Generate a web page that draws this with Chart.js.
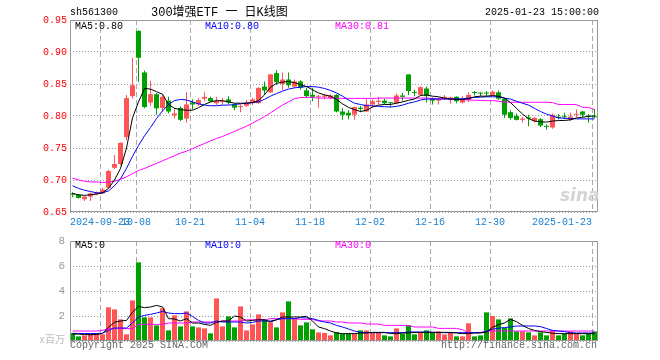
<!DOCTYPE html>
<html><head><meta charset="utf-8">
<script src="https://cdn.jsdelivr.net/npm/chart.js@4.4.1/dist/chart.umd.min.js"></script>
<style>
html,body{margin:0;padding:0;background:#fff}
#wrap{position:relative;width:660px;height:360px;overflow:hidden;background:#fff}
canvas{position:absolute;left:0}
.t{position:absolute;font:10px/12px "Liberation Mono","DejaVu Sans Mono",monospace;white-space:pre}
</style></head><body>
<div id="wrap">
<canvas id="k" width="660" height="232" style="top:0"></canvas>
<canvas id="v" width="660" height="128" style="top:232px"></canvas>
<div class="t" style="left:70px;top:7px;color:#000">sh561300</div>
<div class="t" style="left:151px;top:6px;font-size:12px;line-height:14px;font-family:'Liberation Mono','Noto Sans CJK SC',monospace;color:#000">300增强ETF 一 日K线图</div>
<div class="t" style="right:61px;top:7px;color:#000">2025-01-23 15:00:00</div>
<div class="t" id="l5" style="left:75px;top:21px;color:#000"></div>
<div class="t" id="l10" style="left:205px;top:21px;color:#0000ff"></div>
<div class="t" id="l30" style="left:335px;top:21px;color:#ff00ff"></div>
<div class="t" style="left:75px;top:240px;color:#000">MA5:0</div>
<div class="t" style="left:205px;top:240px;color:#0000ff">MA10:0</div>
<div class="t" style="left:335px;top:240px;color:#ff00ff">MA30:0</div>
<div class="t" style="right:595px;top:335px;color:#bbb;font-family:'Liberation Mono','Noto Sans CJK SC',monospace">x百万</div>
<div class="t" style="left:70px;top:340px;color:#666">Copyright 2025 SINA.COM</div>
<div class="t" style="right:63px;top:340px;color:#666">http://finance.sina.com.cn</div>
<div style="position:absolute;left:560px;top:185px;font:italic bold 17px/20px 'DejaVu Sans',sans-serif;color:#d4d4d4">sina</div>
</div>
<script>
const DATES = ['2024-09-12','2024-09-13','2024-09-18','2024-09-19','2024-09-20','2024-09-23','2024-09-24','2024-09-25','2024-09-26','2024-09-27',
'2024-09-30','2024-10-08','2024-10-09','2024-10-10','2024-10-11','2024-10-14','2024-10-15','2024-10-16','2024-10-17','2024-10-18',
'2024-10-21','2024-10-22','2024-10-23','2024-10-24','2024-10-25','2024-10-28','2024-10-29','2024-10-30','2024-10-31','2024-11-01',
'2024-11-04','2024-11-05','2024-11-06','2024-11-07','2024-11-08','2024-11-11','2024-11-12','2024-11-13','2024-11-14','2024-11-15',
'2024-11-18','2024-11-19','2024-11-20','2024-11-21','2024-11-22','2024-11-25','2024-11-26','2024-11-27','2024-11-28','2024-11-29',
'2024-12-02','2024-12-03','2024-12-04','2024-12-05','2024-12-06','2024-12-09','2024-12-10','2024-12-11','2024-12-12','2024-12-13',
'2024-12-16','2024-12-17','2024-12-18','2024-12-19','2024-12-20','2024-12-23','2024-12-24','2024-12-25','2024-12-26','2024-12-27',
'2024-12-30','2024-12-31','2025-01-02','2025-01-03','2025-01-06','2025-01-07','2025-01-08','2025-01-09','2025-01-10','2025-01-13',
'2025-01-14','2025-01-15','2025-01-16','2025-01-17','2025-01-20','2025-01-21','2025-01-22','2025-01-23'];

const OPEN = [0.679,0.677,0.670,0.674,0.678,0.679,0.688,0.719,0.725,0.767,
0.831,0.933,0.868,0.821,0.834,0.8125,0.824,0.801,0.8125,0.796,
0.821,0.818,0.827,0.828,0.820,0.822,0.826,0.818,0.814,0.816,
0.820,0.820,0.846,0.837,0.867,0.850,0.857,0.846,0.854,0.840,
0.833,0.830,0.830,0.828,0.833,0.807,0.805,0.802,0.813,0.807,
0.818,0.822,0.824,0.821,0.820,0.832,0.865,0.837,0.833,0.843,
0.827,0.824,0.828,0.826,0.830,0.821,0.825,0.837,0.836,0.836,
0.833,0.837,0.827,0.806,0.800,0.794,0.798,0.792,0.795,0.784,
0.782,0.799,0.799,0.794,0.802,0.807,0.800,0.799];
const HIGH = [0.681,0.678,0.675,0.680,0.682,0.688,0.716,0.739,0.759,0.833,
0.891,0.934,0.871,0.855,0.836,0.833,0.830,0.8125,0.815,0.837,
0.826,0.828,0.838,0.830,0.830,0.828,0.831,0.820,0.818,0.825,
0.828,0.845,0.854,0.866,0.872,0.868,0.868,0.857,0.856,0.844,
0.844,0.833,0.834,0.834,0.834,0.8125,0.809,0.815,0.816,0.827,
0.826,0.830,0.827,0.821,0.835,0.836,0.865,0.841,0.846,0.846,
0.829,0.829,0.833,0.830,0.831,0.831,0.837,0.839,0.837,0.839,
0.840,0.840,0.828,0.809,0.804,0.799,0.802,0.799,0.797,0.787,
0.804,0.803,0.805,0.805,0.810,0.808,0.803,0.811];
const LOW = [0.673,0.671,0.667,0.667,0.676,0.678,0.687,0.717,0.723,0.762,
0.827,0.853,0.812,0.816,0.802,0.807,0.804,0.796,0.792,0.790,
0.810,0.816,0.823,0.822,0.817,0.818,0.818,0.809,0.806,0.814,
0.817,0.819,0.833,0.836,0.849,0.841,0.844,0.844,0.841,0.828,
0.823,0.813,0.826,0.826,0.806,0.794,0.795,0.794,0.806,0.807,
0.813,0.818,0.818,0.814,0.818,0.824,0.833,0.831,0.832,0.821,
0.818,0.818,0.825,0.819,0.820,0.820,0.822,0.832,0.831,0.831,
0.832,0.825,0.797,0.794,0.793,0.790,0.784,0.790,0.783,0.779,
0.780,0.795,0.795,0.792,0.798,0.798,0.790,0.797];
const CLOSE = [0.677,0.672,0.674,0.679,0.680,0.685,0.714,0.725,0.758,0.828,
0.848,0.891,0.814,0.834,0.812,0.830,0.807,0.804,0.794,0.818,
0.818,0.825,0.830,0.823,0.824,0.823,0.821,0.813,0.815,0.821,
0.826,0.844,0.840,0.865,0.853,0.857,0.848,0.854,0.844,0.831,
0.830,0.831,0.832,0.832,0.807,0.802,0.801,0.814,0.811,0.818,
0.823,0.824,0.820,0.820,0.832,0.830,0.839,0.836,0.845,0.831,
0.824,0.826,0.830,0.829,0.823,0.826,0.833,0.836,0.835,0.835,
0.838,0.827,0.802,0.797,0.794,0.796,0.796,0.797,0.785,0.783,
0.802,0.797,0.798,0.799,0.803,0.802,0.799,0.798];

const MA5 = [0.679,0.677,0.676,0.677,0.678,0.680,0.687,0.700,0.718,0.750,
0.797,0.822,0.843,0.842,0.838,0.834,0.818,0.812,0.810,0.809,
0.809,0.813,0.818,0.822,0.824,0.824,0.822,0.820,0.820,0.820,
0.821,0.824,0.833,0.845,0.851,0.853,0.854,0.852,0.849,0.846,
0.841,0.836,0.833,0.831,0.826,0.819,0.8135,0.810,0.807,0.809,
0.814,0.817,0.818,0.818,0.820,0.822,0.8245,0.8265,0.832,0.833,
0.831,0.830,0.828,0.8265,0.826,0.8255,0.827,0.830,0.831,0.831,
0.832,0.831,0.828,0.821,0.812,0.803,0.796,0.792,0.791,0.7905,
0.792,0.793,0.793,0.794,0.797,0.798,0.7995,0.800];
const MA10 = [0.691,0.687,0.684,0.682,0.680,0.680,0.683,0.691,0.702,0.718,
0.737,0.754,0.769,0.782,0.796,0.808,0.818,0.824,0.826,0.825,
0.822,0.819,0.817,0.816,0.816,0.817,0.817,0.818,0.819,0.820,
0.821,0.822,0.826,0.831,0.835,0.839,0.842,0.844,0.845,0.846,
0.846,0.845,0.843,0.840,0.836,0.831,0.825,0.820,0.818,0.816,
0.816,0.815,0.8145,0.814,0.815,0.817,0.820,0.822,0.825,0.8265,
0.8265,0.8265,0.8265,0.8265,0.827,0.827,0.828,0.829,0.8295,0.830,
0.830,0.830,0.828,0.8265,0.823,0.820,0.817,0.812,0.807,0.803,
0.800,0.797,0.7965,0.796,0.7955,0.7955,0.7955,0.7955];
const MA30 = [0.703,0.700,0.698,0.697,0.697,0.696,0.697,0.698,0.701,0.705,
0.710,0.715,0.718,0.722,0.726,0.730,0.734,0.738,0.742,0.745,
0.749,0.753,0.757,0.761,0.765,0.768,0.772,0.776,0.780,0.784,
0.789,0.794,0.799,0.805,0.811,0.817,0.822,0.827,0.829,0.829,
0.829,0.828,0.828,0.828,0.828,0.8275,0.8275,0.8275,0.8275,0.8275,
0.8275,0.828,0.828,0.828,0.828,0.828,0.828,0.828,0.828,0.828,
0.8275,0.827,0.827,0.8265,0.826,0.8255,0.825,0.8245,0.8245,0.824,
0.824,0.823,0.822,0.8215,0.8215,0.8215,0.8215,0.8215,0.8215,0.8215,
0.821,0.818,0.818,0.818,0.818,0.8135,0.8135,0.810];

const VOLUME = [0.64,0.37,0.45,0.59,0.64,0.53,2.69,2.53,1.73,0.53,
3.25,6.29,1.89,1.89,1.25,2.61,0.85,2.05,1.17,2.37,
1.17,1.09,1.01,0.61,3.41,1.17,1.97,1.09,2.77,0.85,
1.33,2.13,1.73,1.49,1.09,2.29,3.17,1.81,1.25,1.49,
0.93,0.69,0.64,0.45,0.72,0.59,0.59,0.59,0.85,0.85,
0.64,0.64,0.45,0.37,1.01,0.59,1.25,0.53,0.72,0.85,
0.64,0.77,0.53,0.64,0.37,0.37,1.41,0.37,0.45,2.29,
2.00,1.73,1.04,1.81,0.77,0.77,0.69,0.45,0.69,0.45,
0.85,0.45,0.59,0.77,0.59,0.45,0.59,0.77];
const VMA5 = [0.55,0.55,0.52,0.50,0.52,0.60,1.10,1.50,1.60,1.65,
2.30,2.77,2.67,2.72,2.85,2.72,1.79,1.76,1.60,1.79,
1.44,1.44,1.33,1.25,1.49,1.60,1.60,2.00,1.92,1.60,
1.65,1.70,1.70,1.52,1.70,1.92,1.92,1.92,1.92,1.97,
1.60,1.12,0.99,0.80,0.64,0.59,0.59,0.59,0.64,0.64,
0.69,0.69,0.69,0.59,0.59,0.64,0.64,0.69,0.69,0.69,
0.69,0.69,0.69,0.69,0.64,0.59,0.59,0.64,0.64,0.72,
1.10,1.30,1.45,1.73,1.55,1.25,1.00,0.85,0.75,0.69,
0.62,0.59,0.59,0.59,0.59,0.59,0.59,0.59];
const VMA10 = [0.62,0.60,0.60,0.60,0.60,0.62,0.85,1.04,1.04,1.04,
1.44,1.92,2.05,2.13,2.24,2.37,2.24,2.19,2.19,2.24,
1.97,1.65,1.44,1.44,1.60,1.52,1.52,1.52,1.52,1.44,
1.49,1.60,1.60,1.60,1.70,1.79,1.79,1.79,1.87,1.84,
1.79,1.65,1.52,1.44,1.25,1.12,0.96,0.80,0.69,0.67,
0.67,0.67,0.67,0.67,0.67,0.67,0.72,0.72,0.72,0.72,
0.70,0.67,0.67,0.67,0.67,0.67,0.67,0.67,0.67,0.75,
0.95,1.02,1.08,1.12,1.20,1.20,1.20,1.20,1.15,1.00,
0.85,0.80,0.75,0.66,0.64,0.64,0.64,0.64];
const VMA30 = [0.80,0.80,0.80,0.80,0.80,0.85,0.99,0.99,0.99,0.99,
0.99,1.33,1.33,1.33,1.33,1.33,1.44,1.44,1.44,1.44,
1.52,1.52,1.52,1.52,1.52,1.60,1.60,1.60,1.60,1.70,
1.70,1.70,1.70,1.79,1.79,1.79,1.79,1.79,1.73,1.73,
1.73,1.60,1.60,1.60,1.52,1.52,1.44,1.44,1.44,1.36,
1.36,1.36,1.25,1.25,1.25,1.25,1.25,1.12,1.12,1.12,
1.12,1.01,1.01,1.01,1.01,0.90,0.67,0.67,0.67,0.80,
0.80,0.80,0.80,0.80,0.80,0.80,0.80,0.80,0.80,0.80,
0.80,0.80,0.80,0.80,0.80,0.80,0.80,0.80];

const PRICE_TICKS = [0.65,0.70,0.75,0.80,0.85,0.90,0.95];
const VOL_TICKS = [0,2,4,6,8];
const TICK_IDX = [5,11,20,30,40,50,60,70,87];
const TICK_LABELS = ['2024-09-23','10-08','10-21','11-04','11-18','12-02','12-16','12-30','2025-01-23'];

const UP = '#ff5555', DOWN = '#00a000';
const N = DATES.length;
const OFF = 2.5/6;
const IDX = DATES.map((d,i)=>i);
const COLORS = IDX.map(i => CLOSE[i] >= OPEN[i] ? UP : DOWN);
const pts = arr => arr.map((v,i)=>({x:i,y:v}));
const FONT = {family:"'Liberation Mono','DejaVu Sans Mono',monospace", size:10};

document.getElementById('l5').textContent = 'MA5:' + MA5[N-1].toFixed(2);
document.getElementById('l10').textContent = 'MA10:' + MA10[N-1].toFixed(2);
document.getElementById('l30').textContent = 'MA30:' + MA30[N-1].toFixed(2);

const frame = {id:'frame', afterDraw(c){
  const a=c.chartArea, ctx=c.ctx; ctx.save(); ctx.strokeStyle='#999'; ctx.lineWidth=1;
  ctx.strokeRect(a.left+0.5, a.top+0.5, a.right-a.left-1, a.bottom-a.top-1); ctx.restore();
}};

function xScale(showLabels, h){
  return {
    type:'linear', min:-OFF, max:N-OFF, bounds:'data', offset:false,
    afterBuildTicks:s=>{ s.min=-OFF; s.max=N-OFF; s.ticks = TICK_IDX.map(i=>({value:i-OFF})); },
    afterFit:s=>{ s.height=h; s.paddingLeft=0; s.paddingRight=0; },
    ticks:{display:showLabels, autoSkip:false, maxRotation:0, minRotation:0, padding:4, color:'#1a80d0', font:FONT,
      callback:(v,i)=> i===TICK_LABELS.length-1 ? TICK_LABELS[i]+' '.repeat(TICK_LABELS[i].length) : TICK_LABELS[i]},
    grid:{color:'#aaa', lineWidth:1, drawTicks:false, offset:false},
    border:{display:false, dash:[5,3]}
  };
}
function yScale(lo, hi, ticks, extra){
  return Object.assign({type:'linear', min:lo, max:hi, bounds:'data',
    afterBuildTicks:s=>{ s.min=lo; s.max=hi; s.ticks = ticks.map(v=>({value:v})); },
    afterFit:s=>{ s.width=70; s.paddingTop=0; s.paddingBottom=0; },
    grid:{color:'#999', drawTicks:false}, border:{display:false, dash:[1,2]}}, extra);
}
function line(arr,color){ return {type:'line', data:pts(arr), borderColor:color, borderWidth:1, pointRadius:0, tension:0, order:0}; }
const barBase = {type:'bar', grouped:false, barPercentage:1, categoryPercentage:1, inflateAmount:0, borderWidth:0, order:1};

new Chart(document.getElementById('k'), {
  type:'bar',
  data:{datasets:[
    line(MA5,'#000000'), line(MA10,'#0000ff'), line(MA30,'#ff00ff'),
    Object.assign({}, barBase, {data:IDX.map(i=>({x:i,y:[LOW[i],HIGH[i]]})), backgroundColor:COLORS, maxBarThickness:1}),
    Object.assign({}, barBase, {data:IDX.map(i=>({x:i,y:[OPEN[i],CLOSE[i]]})), backgroundColor:COLORS, maxBarThickness:5, minBarLength:1})
  ]},
  options:{responsive:false, animation:false, devicePixelRatio:1, events:[],
    layout:{padding:{left:0,right:62,top:20,bottom:0}},
    plugins:{legend:{display:false}, tooltip:{enabled:false}},
    scales:{
      x:xScale(true,20),
      y:yScale(0.65,0.95,PRICE_TICKS,{ticks:{color:'#ff0000', padding:3, font:FONT, callback:v=>v.toFixed(2)}})
    }},
  plugins:[frame]
});

new Chart(document.getElementById('v'), {
  type:'bar',
  data:{datasets:[
    line(VMA5,'#000000'), line(VMA10,'#0000ff'), line(VMA30,'#ff00ff'),
    Object.assign({}, barBase, {data:IDX.map(i=>({x:i,y:VOLUME[i]})), backgroundColor:COLORS, maxBarThickness:5})
  ]},
  options:{responsive:false, animation:false, devicePixelRatio:1, events:[],
    layout:{padding:{left:0,right:62,top:9,bottom:0}},
    plugins:{legend:{display:false}, tooltip:{enabled:false}},
    scales:{
      x:xScale(false,19),
      y:yScale(0,8,VOL_TICKS,{ticks:{color:'#999', padding:5, font:{family:FONT.family,size:11}, callback:v=> v===0 ? '' : String(v)}})
    }},
  plugins:[frame]
});
</script>
</body></html>
